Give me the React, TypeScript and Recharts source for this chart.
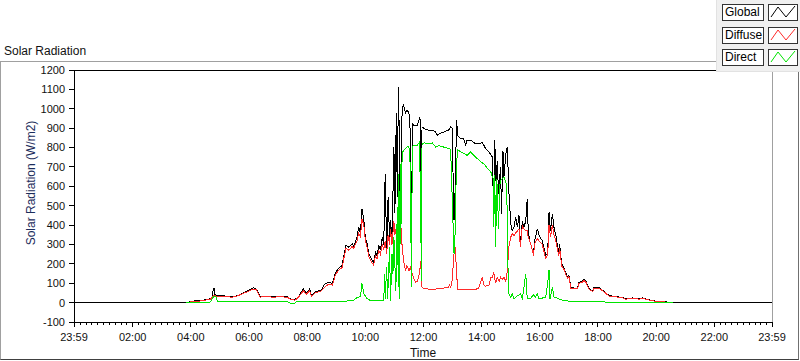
import { LineChart, Line, XAxis, YAxis, ReferenceLine, Label } from "recharts";

// minutes since midnight, W/m2
const globalTimes = [
  -1, 230, 245, 259, 270, 280, 284, 286, 288, 290,
  294, 311, 325, 336, 348, 359, 369, 375, 383, 394,
  408, 425, 439, 445, 454, 460, 466, 472, 478, 485,
  489, 495, 503, 509, 516, 524, 532, 538, 544, 552,
  555, 560, 566, 573, 576, 583, 586, 590, 593, 597,
  600, 604, 607, 614, 617, 621, 624, 628, 631, 635,
  638, 641, 644, 647, 650, 652, 655, 659, 661, 664,
  666, 668, 669, 671, 674, 676, 679, 683, 686, 690,
  693, 695, 697, 700, 707, 712, 714, 716, 717, 721,
  731, 738, 745, 748, 755, 762, 772, 776, 779, 783,
  786, 788, 791, 796, 803, 807, 810, 817, 827, 838,
  841, 848, 855, 862, 865, 867, 870, 872, 875, 879,
  881, 884, 886, 890, 893, 896, 900, 903, 907, 910,
  914, 917, 920, 924, 927, 931, 934, 936, 939, 943,
  947, 949, 951, 955, 958, 962, 965, 969, 972, 976,
  978, 979, 982, 986, 989, 993, 996, 999, 1001, 1005,
  1010, 1013, 1017, 1020, 1024, 1031, 1038, 1041, 1048, 1051,
  1055, 1062, 1069, 1072, 1082, 1089, 1096, 1103, 1117, 1124,
  1130, 1137, 1151, 1165, 1172, 1186, 1193, 1206, 1214, 1235,
  1439,
];
const globalValues = [
  0, 0, 8, 10, 15, 20, 30, 65, 74, 40,
  36, 34, 30, 36, 50, 62, 76, 70, 30, 34,
  30, 32, 30, 20, 15, 25, 45, 74, 46, 70,
  36, 53, 60, 64, 95, 105, 98, 150, 176, 191,
  234, 295, 286, 303, 290, 338, 389, 360, 484, 424,
  338, 300, 252, 217, 208, 260, 240, 295, 270, 338,
  300, 665, 269, 545, 338, 424, 320, 803, 460, 977,
  545, 1045, 1113, 460, 700, 1010, 1019, 977, 993, 980,
  873, 183, 924, 915, 915, 950, 940, 286, 907, 898,
  889, 889, 881, 863, 873, 880, 890, 907, 900, 424,
  631, 941, 860, 846, 846, 812, 838, 838, 820, 820,
  829, 795, 777, 751, 441, 838, 600, 730, 562, 700,
  458, 780, 650, 769, 803, 579, 407, 372, 390, 441,
  390, 450, 303, 420, 390, 420, 536, 380, 320, 286,
  243, 320, 338, 381, 350, 330, 320, 280, 243, 255,
  372, 467, 372, 458, 390, 350, 300, 260, 300, 200,
  180, 157, 130, 140, 79, 75, 75, 105, 110, 121,
  110, 71, 60, 79, 79, 65, 50, 36, 32, 28,
  28, 19, 24, 19, 24, 14, 10, 6, 5, 0,
  0,
];

const diffuseTimes = [
  230, 245, 259, 270, 280, 284, 288, 294, 311, 325,
  336, 348, 359, 369, 375, 383, 394, 408, 425, 439,
  445, 454, 460, 466, 472, 478, 485, 489, 495, 503,
  509, 516, 524, 532, 538, 544, 552, 555, 560, 566,
  573, 576, 583, 586, 590, 593, 597, 600, 604, 607,
  614, 617, 621, 624, 628, 631, 635, 638, 641, 644,
  647, 650, 652, 655, 659, 661, 664, 666, 668, 669,
  671, 674, 676, 679, 683, 686, 690, 693, 697, 700,
  704, 707, 712, 714, 717, 721, 731, 745, 755, 762,
  772, 774, 776, 779, 783, 786, 788, 791, 803, 817,
  827, 834, 838, 841, 845, 848, 855, 859, 862, 865,
  869, 872, 876, 879, 883, 886, 890, 893, 896, 900,
  903, 907, 910, 914, 917, 920, 924, 927, 931, 934,
  936, 939, 943, 947, 949, 951, 955, 958, 962, 965,
  969, 972, 976, 978, 979, 982, 986, 989, 993, 996,
  999, 1001, 1005, 1010, 1013, 1017, 1020, 1024, 1031, 1038,
  1041, 1048, 1051, 1055, 1062, 1069, 1072, 1082, 1089, 1096,
  1103, 1117, 1124, 1130, 1137, 1151, 1165, 1172, 1186, 1193,
  1206, 1214, 1235,
];
const diffuseValues = [
  0, 6, 8, 13, 18, 28, 36, 32, 32, 28,
  34, 48, 58, 70, 66, 28, 32, 28, 30, 28,
  18, 13, 22, 40, 62, 42, 62, 33, 48, 55,
  60, 80, 95, 90, 140, 165, 180, 220, 280, 270,
  290, 280, 320, 360, 340, 430, 400, 320, 280, 240,
  205, 195, 240, 225, 270, 250, 300, 270, 320, 250,
  350, 300, 380, 300, 420, 350, 389, 400, 389, 389,
  424, 380, 286, 217, 165, 191, 165, 180, 148, 122,
  105, 110, 150, 217, 79, 71, 70, 70, 72, 75,
  80, 93, 75, 114, 252, 286, 150, 70, 70, 70,
  68, 75, 105, 131, 90, 85, 90, 131, 131, 152,
  100, 131, 110, 131, 120, 131, 110, 165, 286, 338,
  355, 345, 360, 370, 380, 286, 400, 380, 370, 370,
  340, 320, 286, 243, 300, 312, 330, 320, 310, 300,
  260, 230, 245, 330, 400, 340, 400, 350, 320, 280,
  240, 280, 190, 170, 150, 125, 135, 75, 72, 72,
  100, 105, 115, 105, 68, 57, 75, 75, 62, 48,
  34, 30, 27, 26, 18, 22, 18, 22, 13, 9,
  5, 4, 0,
];

const directTimes = [
  230, 245, 280, 284, 288, 292, 295, 311, 439, 445,
  454, 458, 560, 575, 583, 590, 593, 597, 604, 610,
  638, 640, 641, 644, 646, 650, 652, 655, 657, 659,
  663, 666, 668, 669, 670, 672, 673, 676, 679, 683,
  686, 690, 693, 695, 697, 700, 707, 712, 716, 717,
  721, 731, 738, 745, 752, 758, 765, 772, 776, 783,
  785, 788, 791, 796, 803, 810, 817, 824, 831, 838,
  845, 852, 859, 862, 864, 865, 867, 869, 871, 872,
  875, 877, 879, 883, 886, 890, 892, 893, 896, 900,
  903, 907, 914, 920, 924, 931, 934, 941, 947, 951,
  955, 958, 972, 976, 979, 981, 986, 989, 1003, 1010,
  1031, 1100, 1235,
];
const directValues = [
  0, 1, 3, 20, 33, 30, 8, 5, 5, -3,
  -3, 4, 8, 10, 27, 30, 100, 46, 20, 12,
  12, 150, 20, 183, 20, 286, 10, 252, 150, 338,
  60, 493, 80, 665, 20, 717, 300, 770, 786, 795,
  803, 803, 700, 79, 803, 812, 812, 829, 114, 820,
  824, 820, 824, 803, 810, 805, 800, 795, 790, 252,
  340, 717, 786, 780, 770, 760, 777, 760, 743, 726,
  715, 691, 674, 648, 640, 389, 660, 286, 640, 600,
  380, 600, 631, 640, 648, 620, 600, 300, 45, 27,
  45, 20, 35, 45, 20, 148, 20, 22, 40, 27,
  45, 20, 27, 96, 169, 20, 79, 30, 15, 10,
  5, 3, 0,
];

const yTicks = [-100, 0, 100, 200, 300, 400, 500, 600, 700, 800, 900, 1000, 1100, 1200];
const majorTicks = [-1, 120, 240, 360, 480, 600, 720, 840, 960, 1080, 1200, 1320, 1439];
const majorLabels = ["23:59", "02:00", "04:00", "06:00", "08:00", "10:00", "12:00", "14:00", "16:00", "18:00", "20:00", "22:00", "23:59"];

const legendNames = ["Global", "Diffuse", "Direct"];
const seriesColors = ["#000000", "#ff2a2a", "#00e400"];

const toData = (ts: number[], vs: number[]) => ts.map((t, i) => ({ t, v: vs[i] }));
const globalData = toData(globalTimes, globalValues);
const diffuseData = toData(diffuseTimes, diffuseValues);
const directData = toData(directTimes, directValues);

// every 12 min a small marker, labelled ones every 2 h
const allTicks = [...majorTicks];
for (let m = 12; m < 1439; m += 12) if (m % 120 !== 0) allTicks.push(m);
allTicks.sort((a, b) => a - b);

const FONT = "'Liberation Sans', Arial, sans-serif";

function TimeTick({ x, y, payload }: any) {
  const i = majorTicks.indexOf(payload.value);
  const major = i >= 0;
  return (
    <g>
      <line x1={x} x2={x} y1={y} y2={y + (major ? 5 : 3)} stroke="#000" shapeRendering="crispEdges" />
      {major && (
        <text x={x} y={y + 19} textAnchor="middle" fontSize={11} fontFamily={FONT} fill="#111">
          {majorLabels[i]}
        </text>
      )}
    </g>
  );
}

function LegendPanel() {
  const rowTops = [4, 27, 49];
  return (
    <div style={{ position: "absolute", left: 716, top: 0, width: 84, height: 72, background: "#f0f0f0", borderLeft: "1px solid #e2e2e2", borderBottom: "1px solid #e2e2e2", boxSizing: "border-box" }}>
      {legendNames.map((name, i) => (
        <div key={name}>
          <div style={{ position: "absolute", left: 5, top: rowTops[i], width: 42, height: 17, border: "1px solid #333", background: "#fff", boxSizing: "border-box", fontSize: 12, lineHeight: "15px", paddingLeft: 2, fontFamily: FONT }}>
            {name}
          </div>
          <svg style={{ position: "absolute", left: 51, top: rowTops[i] }} width={30} height={17}>
            <rect x={0.5} y={0.5} width={29} height={16} fill="#fff" stroke="#333" />
            <polyline points="3,13 10,3 18,13 27,2" fill="none" stroke={seriesColors[i]} strokeWidth={1} />
          </svg>
        </div>
      ))}
    </div>
  );
}

export default function App() {
  return (
    <div style={{ position: "absolute", left: 0, top: 0, width: 800, height: 361, background: "#fff", fontFamily: FONT, overflow: "hidden" }}>
      <div style={{ position: "absolute", left: 4, top: 44, fontSize: 12, color: "#111" }}>Solar Radiation</div>
      <div style={{ position: "absolute", left: 0, top: 61, width: 799, height: 299, borderTop: "1px solid #a0a0a0", borderLeft: "1px solid #a0a0a0", borderRight: "1px solid #707070", borderBottom: "1px solid #404040", boxSizing: "border-box" }} />
      <div style={{ position: "absolute", left: 0, top: 0 }}>
        <LineChart width={800} height={361} margin={{ top: 70, right: 28, bottom: 0, left: 0 }}>
          <XAxis
            type="number"
            dataKey="t"
            domain={[-1, 1439]}
            ticks={allTicks}
            interval={0}
            tickSize={0}
            tickMargin={0}
            tickLine={false}
            tick={<TimeTick />}
            axisLine={{ stroke: "#000", shapeRendering: "crispEdges" }}
            height={39}
            allowDataOverflow
          >
            <Label value="Time" position="insideBottom" offset={4} fontSize={12} fontFamily={FONT} fill="#111" />
          </XAxis>
          <YAxis
            type="number"
            domain={[-100, 1200]}
            ticks={yTicks}
            interval={0}
            width={74}
            tickSize={5}
            tickMargin={4}
            tickLine={{ stroke: "#000", shapeRendering: "crispEdges" }}
            axisLine={{ stroke: "#000", shapeRendering: "crispEdges" }}
            tick={{ fontSize: 11, fontFamily: FONT, fill: "#111" }}
            allowDataOverflow
          >
            <Label
              content={() => (
                <text transform="translate(31,183) rotate(-90)" textAnchor="middle" dominantBaseline="central" fontSize={12} fontFamily={FONT} fill="#1c2d5c">
                  Solar Radiation (W/m2)
                </text>
              )}
            />
          </YAxis>
          <ReferenceLine y={1200} stroke="#000" shapeRendering="crispEdges" />
          <ReferenceLine x={1439} stroke="#a0a0a0" shapeRendering="crispEdges" />
          <Line data={globalData} dataKey="v" type="linear" stroke={seriesColors[0]} strokeWidth={1} shapeRendering="crispEdges" dot={false} isAnimationActive={false} />
          <Line data={diffuseData} dataKey="v" type="linear" stroke={seriesColors[1]} strokeWidth={1} shapeRendering="crispEdges" dot={false} isAnimationActive={false} />
          <Line data={directData} dataKey="v" type="linear" stroke={seriesColors[2]} strokeWidth={1} shapeRendering="crispEdges" dot={false} isAnimationActive={false} />
        </LineChart>
      </div>
      <LegendPanel />
    </div>
  );
}
